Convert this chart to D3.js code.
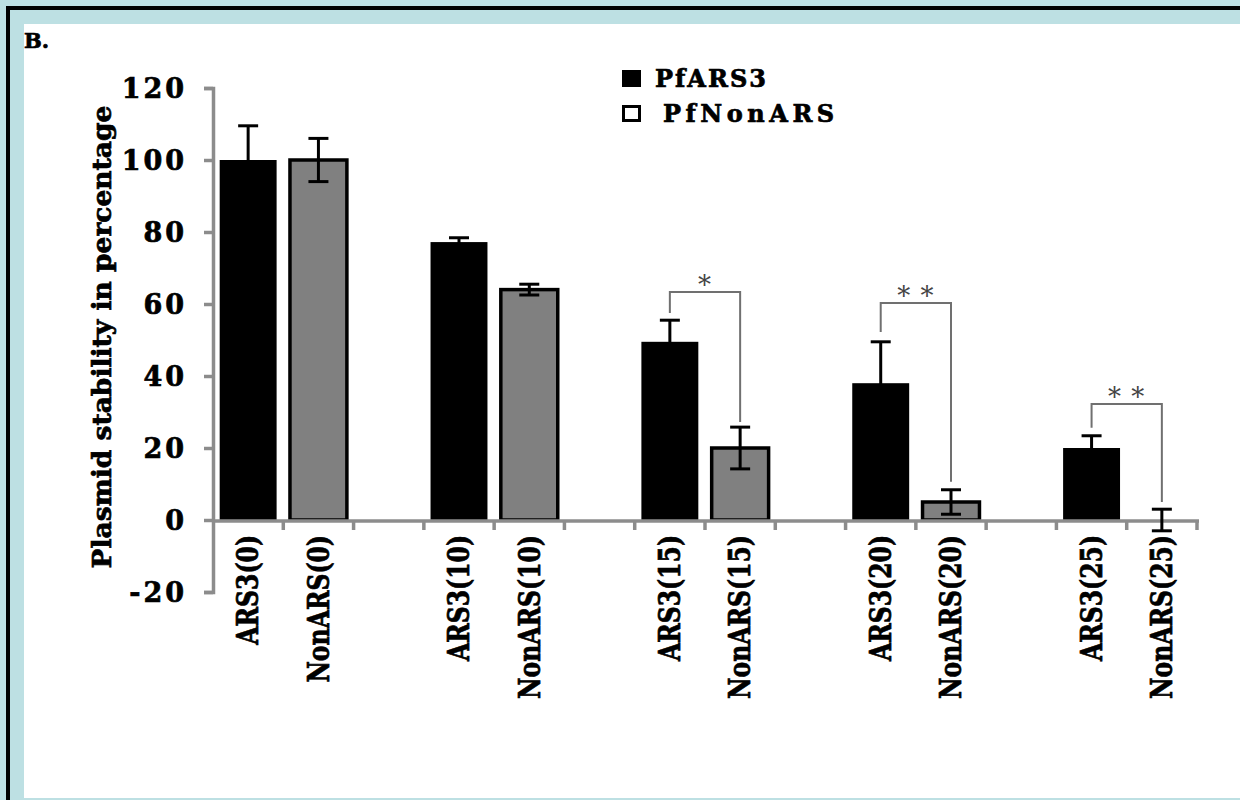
<!DOCTYPE html>
<html>
<head>
<meta charset="utf-8">
<script src="https://cdn.jsdelivr.net/npm/d3@7"></script>
<style>
  html, body { margin: 0; padding: 0; background: #bde0e3; }
  svg { display: block; }
  .serif { font-family: "DejaVu Serif", serif; font-weight: bold; stroke: #000; stroke-width: 0.7px; }
</style>
</head>
<body>
<svg id="chart-svg" width="1240" height="800"></svg>
<script>
// categories along the x axis (blank slots separate the day groups)
const categories = ['ARS3(0)', 'NonARS(0)', 'gap1',
                    'ARS3(10)', 'NonARS(10)', 'gap2',
                    'ARS3(15)', 'NonARS(15)', 'gap3',
                    'ARS3(20)', 'NonARS(20)', 'gap4',
                    'ARS3(25)', 'NonARS(25)'];
const barNames  = ['ARS3(0)', 'NonARS(0)', 'ARS3(10)', 'NonARS(10)', 'ARS3(15)',
                   'NonARS(15)', 'ARS3(20)', 'NonARS(20)', 'ARS3(25)', 'NonARS(25)'];
const barSeries = ['PfARS3', 'PfNonARS', 'PfARS3', 'PfNonARS', 'PfARS3',
                   'PfNonARS', 'PfARS3', 'PfNonARS', 'PfARS3', 'PfNonARS'];
const barValues = [100, 100, 77.2, 64, 49.5, 20, 38, 5, 20, 0];
const barErrors = [9.5, 6, 1.2, 1.5, 6, 5.8, 11.5, 3.4, 3.4, 3];

const yTicks = [-20, 0, 20, 40, 60, 80, 100, 120];
const legendNames = ['PfARS3', 'PfNonARS'];

// significance brackets: [from, to, top, left end, right end, label]
const sigFrom   = ['ARS3(15)', 'ARS3(20)', 'ARS3(25)'];
const sigTo     = ['NonARS(15)', 'NonARS(20)', 'NonARS(25)'];
const sigTop    = [63.3, 60.3, 32.2];
const sigLeft   = [57.5, 52.2, 25.6];
const sigRight  = [27.2, 10.6, 5];
const sigLabels = ['*', '* *', '* *'];

const fills = { PfARS3: '#000000', PfNonARS: '#808080' };
const axisGray = '#8c8c8c';

let svg = d3.select('#chart-svg');

// frame
svg.append('rect').attr('x', 0).attr('y', 0).attr('width', 1240).attr('height', 800).attr('fill', '#bde0e3');
svg.append('rect').attr('x', 6).attr('y', 6).attr('width', 1240).attr('height', 800).attr('fill', '#000');
svg.append('rect').attr('x', 10).attr('y', 10).attr('width', 1240).attr('height', 800).attr('fill', '#bde0e3');
svg.append('rect').attr('x', 24).attr('y', 24).attr('width', 1216).attr('height', 774).attr('fill', '#fff');

svg.append('text').attr('class', 'serif').attr('x', 24).attr('y', 48)
    .attr('font-size', 21).text('B.');

let x = d3.scaleBand().domain(categories).range([213, 1197]).padding(0);
let y = d3.scaleLinear().domain([-20, 120]).range([592, 88]);
let bw = x.bandwidth() * 0.81;
let cx = d => x(d) + x.bandwidth() / 2;

let bars = barNames.map((n, i) => ({ name: n, series: barSeries[i], value: barValues[i], err: barErrors[i] }));

// bars
svg.append('g').selectAll('rect').data(bars).enter().append('rect')
    .attr('x', d => cx(d.name) - bw / 2)
    .attr('y', d => y(Math.max(0, d.value)))
    .attr('width', bw)
    .attr('height', d => Math.abs(y(0) - y(d.value)))
    .attr('fill', d => fills[d.series])
    .attr('stroke', '#000')
    .attr('stroke-width', d => d.series == 'PfNonARS' ? 3.5 : 0);

// y axis
const yAxisGroup = svg.append('g').attr('transform', 'translate(213,0)');
yAxisGroup.call(d3.axisLeft(y).tickValues(yTicks).tickSize(9).tickSizeOuter(9).tickPadding(17)
    .tickFormat(d => d < 0 ? '-' + Math.abs(d) : d));
yAxisGroup.selectAll('path, line').attr('stroke', axisGray).attr('stroke-width', 3.5);
yAxisGroup.selectAll('text').attr('class', 'serif').attr('font-size', 27)
    .attr('fill', '#000').attr('letter-spacing', 3).attr('dy', '0.36em');

// x axis line with ticks on the band boundaries
const xAxisGroup = svg.append('g').attr('transform', 'translate(0,' + (y(0) + 1) + ')');
xAxisGroup.append('line').attr('x1', 213).attr('x2', 1199).attr('stroke', axisGray).attr('stroke-width', 3.5);
let bounds = categories.map(c => x(c) + x.bandwidth());
xAxisGroup.selectAll('.tick').data(bounds).enter().append('line')
    .attr('x1', d => d).attr('x2', d => d).attr('y1', 0).attr('y2', 9)
    .attr('stroke', axisGray).attr('stroke-width', 3.5);

// category labels
const labelGroup = svg.append('g').attr('transform', 'translate(0,' + (y(0) + 15) + ')');
labelGroup.call(d3.axisBottom(x).tickSize(0).tickFormat(d => d.startsWith('gap') ? '' : d));
labelGroup.select('.domain').remove();
labelGroup.selectAll('text')
    .attr('class', 'serif').attr('font-size', 28).attr('fill', '#000')
    .attr('text-anchor', 'end').attr('dy', '0.35em').attr('y', 0).attr('x', 0)
    .attr('transform', 'rotate(-90) scale(0.84,1.05)');

// error bars
const errGroup = svg.append('g').attr('stroke', '#000').attr('stroke-width', 3);
bars.forEach(d => {
    let c = cx(d.name);
    errGroup.append('line').attr('x1', c).attr('x2', c).attr('y1', y(d.value + d.err)).attr('y2', y(d.value - d.err));
    errGroup.append('line').attr('x1', c - 10).attr('x2', c + 10).attr('y1', y(d.value + d.err)).attr('y2', y(d.value + d.err));
    errGroup.append('line').attr('x1', c - 10).attr('x2', c + 10).attr('y1', y(d.value - d.err)).attr('y2', y(d.value - d.err));
});

// significance brackets
const sigGroup = svg.append('g');
sigFrom.forEach((f, i) => {
    let x1 = cx(f), x2 = cx(sigTo[i]);
    sigGroup.append('path')
        .attr('d', 'M' + x1 + ',' + y(sigLeft[i]) + 'V' + y(sigTop[i]) + 'H' + x2 + 'V' + y(sigRight[i]))
        .attr('fill', 'none').attr('stroke', '#707070').attr('stroke-width', 2);
    sigGroup.append('text').attr('x', (x1 + x2) / 2).attr('y', y(sigTop[i]) + 2)
        .attr('text-anchor', 'middle').attr('font-family', 'DejaVu Serif, serif')
        .attr('font-size', 26).attr('fill', '#444').attr('letter-spacing', 1).text(sigLabels[i]);
});

// y title
svg.append('text').attr('class', 'serif').attr('font-size', 26.5)
    .attr('transform', 'translate(111,337) rotate(-90)')
    .attr('text-anchor', 'middle').text('Plasmid stability in percentage');

// legend
const legend = svg.append('g').attr('transform', 'translate(622,70)');
legendNames.forEach((n, i) => {
    let row = legend.append('g').attr('transform', 'translate(0,' + (i * 35) + ')');
    row.append('rect').attr('x', i ? 1.5 : 0).attr('y', i ? 1.5 : 0)
        .attr('width', i ? 16 : 19).attr('height', i ? 14 : 17)
        .attr('fill', i ? '#fff' : '#000').attr('stroke', '#000').attr('stroke-width', i ? 3 : 0);
    row.append('text').attr('class', 'serif').attr('x', i ? 41 : 33).attr('y', 17)
        .attr('font-size', 24).attr('letter-spacing', i ? 4.5 : 2).text(n);
});
</script>
</body>
</html>
